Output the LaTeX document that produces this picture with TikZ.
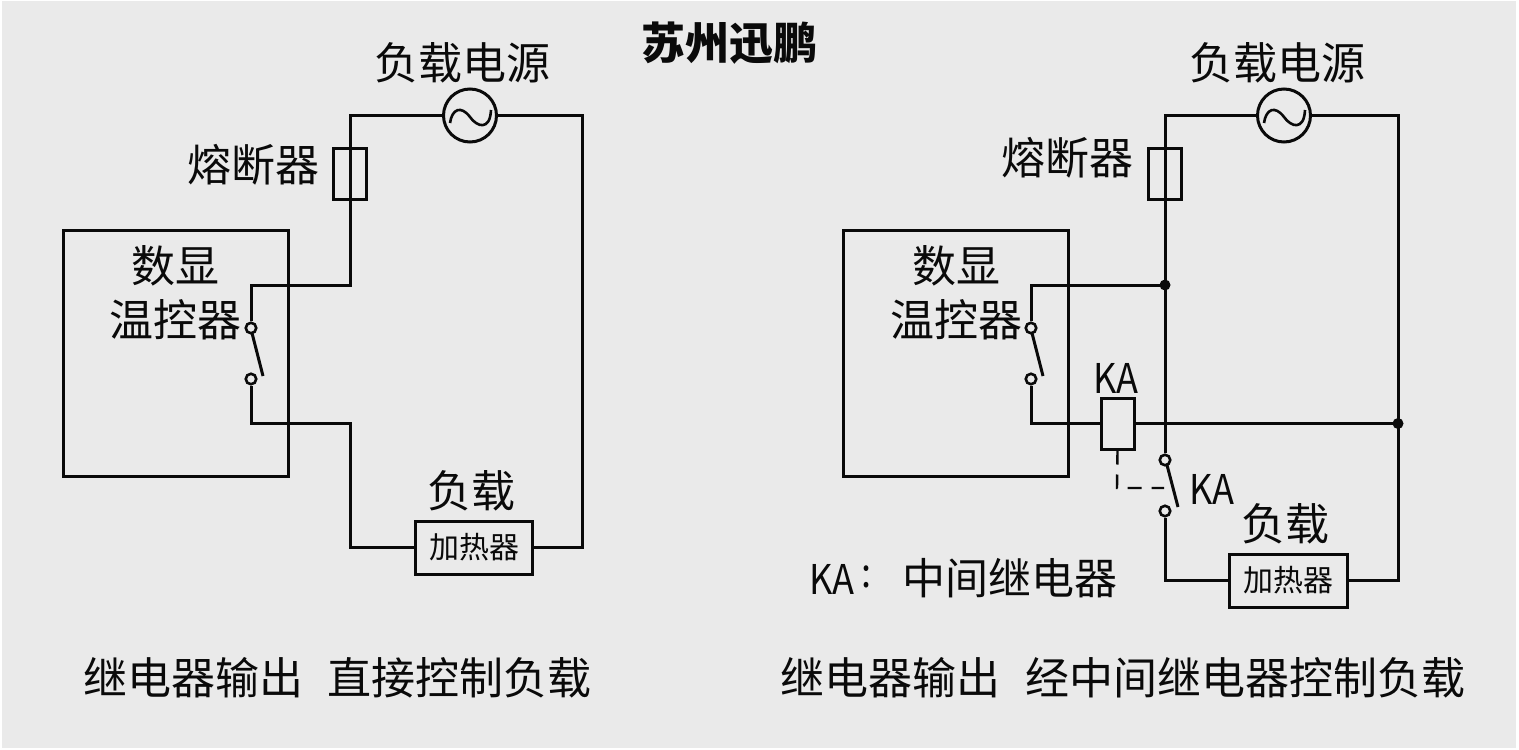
\documentclass[tikz,border=0pt]{standalone}
\usepackage{fontspec}
\setmainfont{Noto Sans CJK SC}
\definecolor{bgc}{HTML}{EAEAEA}
\definecolor{ink}{HTML}{0A0A0A}
\tikzset{
  wire/.style={draw=ink,line width=3pt,line join=miter},
  sine/.style={draw=ink,line width=2.6pt},
  part/.style={draw=ink,line width=3pt,inner sep=0pt,minimum width=#1},
  term/.style={circle,draw=ink,line width=2.6pt,fill=bgc,minimum size=10.5pt,inner sep=0pt},
  dotj/.style={circle,fill=ink,minimum size=11pt,inner sep=0pt},
  src/.style={circle,draw=ink,line width=3pt,minimum size=53pt,inner sep=0pt},
  lab/.style={text=ink,font=\fontsize{44}{48}\selectfont,inner sep=0pt},
  small/.style={text=ink,font=\fontsize{30}{34}\selectfont,inner sep=0pt},
  ka/.style={text=ink,font=\fontsize{41}{46}\selectfont,inner sep=0pt,xscale=.88},
  blade/.style={draw=ink,line width=3pt},
  linkd/.style={draw=ink,line width=2.4pt,dash pattern=on 14pt off 10pt},
}
\begin{document}
\begin{tikzpicture}[x=1pt,y=-1pt]
\useasboundingbox (0,0) rectangle (1519,750);
\fill[white] (0,0) rectangle (1519,750);
\fill[bgc] (2,1) rectangle (1516,748);
\node[lab,font=\fontsize{44}{48}\selectfont\bfseries] (title) at (729,43) {苏州迅鹏};
% left circuit
\node[part=225pt,minimum height=246pt] (ctlL) at (175.5,353) {};
\node[lab] (ctlLa) at (175,266) {数显};
\node[lab] (ctlLb) at (175,320) {温控器};
\node[src] (srcL) at (470,115.5) {};
\draw[sine] (450,123) .. controls (452,109) and (461,105) .. (470,117) .. controls (477,127) and (490,131) .. (491,110);
\node[part=33pt,minimum height=51pt] (fuL) at (350,174) {};
\node[part=117pt,minimum height=53pt] (heatL) at (474,547.5) {};
\node[small] (heatLt) at (474,547) {加热器};
\node[term] (t1L) at (251,328) {};
\node[term] (t2L) at (251,379) {};
\coordinate (cTL) at (350,115.5);
\coordinate (cTR) at (582,115.5);
\coordinate (cBR) at (582,547.5);
\coordinate (cBL) at (350,547.5);
\coordinate (cML) at (350,423);
\coordinate (cLo) at (251,423);
\coordinate (cUp) at (251,285);
\coordinate (cUr) at (350,285);
\coordinate (bAL) at (252,333);
\coordinate (bBL) at (263,376);
\draw[wire] (srcL.west) -- (cTL) -- (cUr) -- (cUp) -- (t1L.north);
\draw[wire] (srcL.east) -- (cTR) -- (cBR) -- (heatL.east);
\draw[wire] (heatL.west) -- (cBL) -- (cML) -- (cLo) -- (t2L.south);
\draw[blade] (bAL) -- (bBL);
\node[lab] (srcLt) at (462,63) {负载电源};
\node[lab] (fuLt) at (253,165) {熔断器};
\node[lab] (loadL) at (471,491) {负载};
\node[lab,anchor=west] (capL) at (83,678) {继电器输出\hspace{24pt}直接控制负载};
% right circuit
\node[part=225pt,minimum height=246pt] (ctlR) at (955.5,353) {};
\node[lab] (ctlRa) at (956,266) {数显};
\node[lab] (ctlRb) at (956,320) {温控器};
\node[src] (srcR) at (1284,115.5) {};
\draw[sine] (1264,123) .. controls (1266,109) and (1275,105) .. (1284,117) .. controls (1291,127) and (1304,131) .. (1305,110);
\node[part=33pt,minimum height=51pt] (fuR) at (1165,174) {};
\node[part=118pt,minimum height=53pt] (heatR) at (1288.5,580.5) {};
\node[small] (heatRt) at (1288,580) {加热器};
\node[part=33pt,minimum height=51pt] (coil) at (1117.5,423.5) {};
\node[term] (t1R) at (1031,328) {};
\node[term] (t2R) at (1031,379) {};
\node[term] (t3R) at (1165,460) {};
\node[term] (t4R) at (1165,511) {};
\coordinate (dTL) at (1165,115.5);
\coordinate (dTR) at (1398,115.5);
\coordinate (dBR) at (1398,580.5);
\coordinate (dBL) at (1165,580.5);
\coordinate (dUp) at (1031,285);
\coordinate (dLo) at (1031,423.5);
\coordinate (dMid) at (1117,488);
\coordinate (dEnd) at (1164,488);
\coordinate (bAR) at (1032,333);
\coordinate (bBR) at (1043,376);
\coordinate (bCR) at (1167,465);
\coordinate (bDR) at (1178,507);
\node[dotj] (j1) at (1165,285) {};
\node[dotj] (j2) at (1398,423.5) {};
\draw[wire] (srcR.west) -- (dTL) -- (t3R.north);
\draw[wire] (srcR.east) -- (dTR) -- (dBR) -- (heatR.east);
\draw[wire] (heatR.west) -- (dBL) -- (t4R.south);
\draw[wire] (j1.center) -- (dUp) -- (t1R.north);
\draw[wire] (t2R.south) -- (dLo) -- (coil.west);
\draw[wire] (coil.east) -- (j2.center);
\draw[blade] (bAR) -- (bBR);
\draw[blade] (bCR) -- (bDR);
\draw[linkd] (coil.south) -- (dMid) -- (dEnd);
\node[lab] (srcRt) at (1277,63) {负载电源};
\node[lab] (fuRt) at (1067,158) {熔断器};
\node[lab] (loadR) at (1285,524) {负载};
\node[ka] (ka1) at (1116,378) {KA};
\node[ka] (ka2) at (1212,489) {KA};
\node[ka] (ka3) at (832,579) {KA};
\node[lab,font=\fontsize{43}{48}\selectfont,anchor=west] (kaNote) at (902,578) {中间继电器};
\node[ka] (kaColon) at (867,577) {:};
\node[lab,anchor=west] (capR) at (780,678) {继电器输出\hspace{25pt}经中间继电器控制负载};
\end{tikzpicture}
\end{document}
